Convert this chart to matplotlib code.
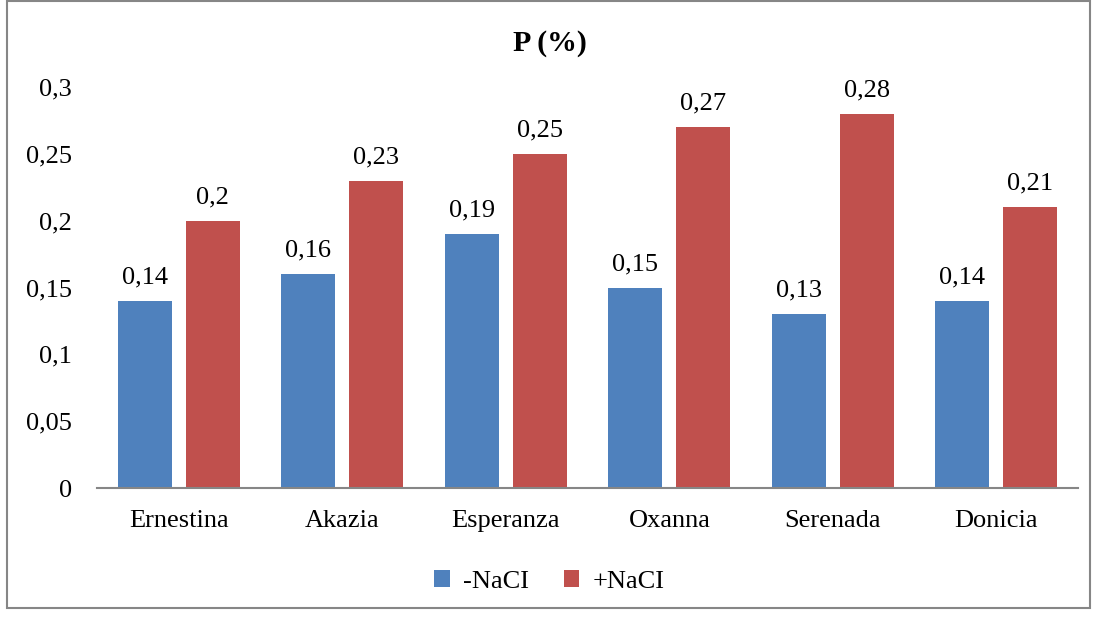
import matplotlib.pyplot as plt
import numpy as np
from matplotlib.patches import Rectangle

# P content per cultivar, without and with NaCl
cultivars = ["Ernestina", "Akazia", "Esperanza", "Oxanna", "Serenada", "Donicia"]
minus_nacl = [0.14, 0.16, 0.19, 0.15, 0.13, 0.14]
plus_nacl = [0.20, 0.23, 0.25, 0.27, 0.28, 0.21]
yticks = [0, 0.05, 0.1, 0.15, 0.2, 0.25, 0.3]

BLUE = "#4F81BD"
RED = "#C0504D"
FONT = ["Liberation Serif", "DejaVu Serif"]
FS = 19

plt.rcParams["font.family"] = FONT

fig = plt.figure(figsize=(10.99, 6.17), dpi=100)
ax = fig.add_axes([0.0883, 0.209, 0.8927, 0.650])

x = np.arange(len(cultivars))
w = 0.33
off = 0.208
b1 = ax.bar(x - off, minus_nacl, w, color=BLUE, label="-NaCI")
b2 = ax.bar(x + off, plus_nacl, w, color=RED, label="+NaCI")

def fmt(v):
    s = ("%.2f" % v).rstrip("0").rstrip(".")
    return s.replace(".", ",")

for bars, vals in ((b1, minus_nacl), (b2, plus_nacl)):
    for rect, v in zip(bars, vals):
        ax.annotate(fmt(v), (rect.get_x() + rect.get_width() / 2, v),
                    xytext=(0, 9), textcoords="offset points",
                    ha="center", va="bottom", fontsize=FS)

ax.set_xlim(-0.5, len(cultivars) - 0.5)
ax.set_ylim(0, 0.3)
ax.set_yticks(yticks)
ax.set_yticklabels([fmt(t) if t else "0" for t in yticks], fontsize=FS)
ax.set_xticks(x)
ax.set_xticklabels(cultivars, fontsize=FS)
ax.tick_params(length=0)
ax.tick_params(axis="x", pad=16)
ax.tick_params(axis="y", pad=18)
for s in ("top", "right", "left"):
    ax.spines[s].set_visible(False)
ax.spines["bottom"].set_color("#868686")
ax.spines["bottom"].set_linewidth(1.5)

fig.text(0.5, 0.929, "P (%)", ha="center", va="center",
         fontsize=21.5, fontweight="bold")

fig.legend(handles=[b1, b2], loc="center", bbox_to_anchor=(0.5, 0.058),
           ncol=2, frameon=False, fontsize=FS, handlelength=0.6,
           handleheight=0.6, handletextpad=0.5, columnspacing=1.3)

# chart border
fig.patches.append(Rectangle((0.006, 0.015), 0.986, 0.983, transform=fig.transFigure,
                             fill=False, edgecolor="#868686", linewidth=1.5))

fig.savefig("out.png", dpi=100)
